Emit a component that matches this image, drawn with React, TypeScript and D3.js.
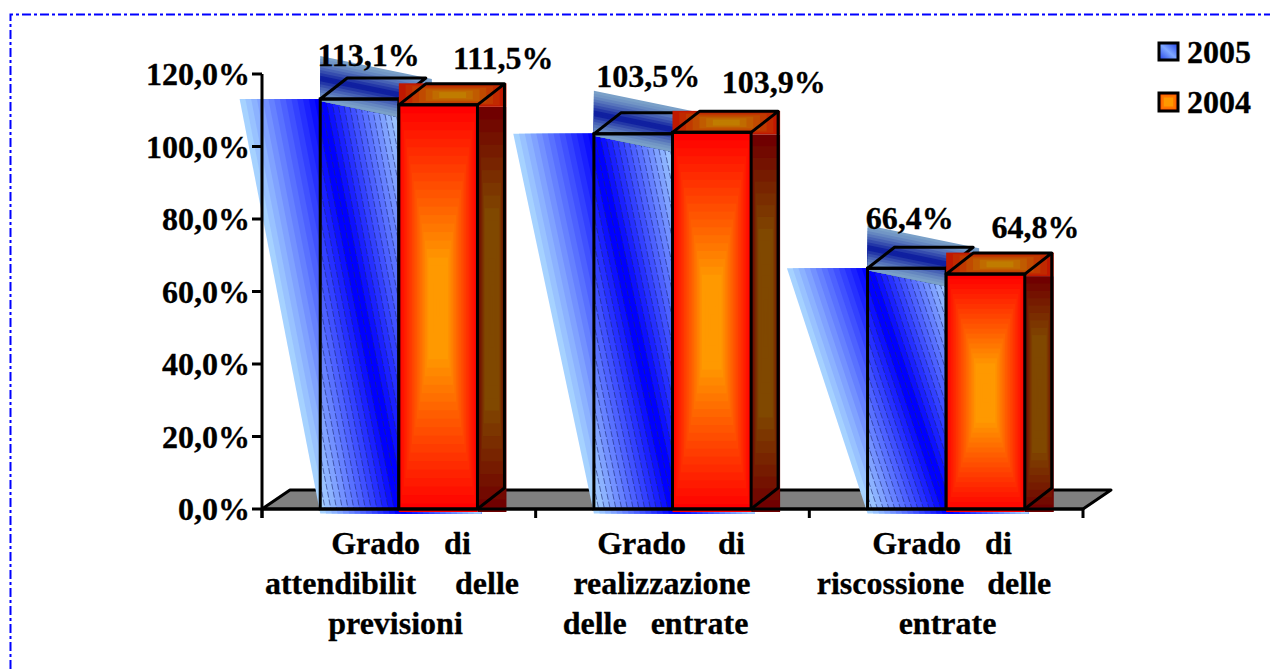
import React from "react";
import * as d3 from "d3";

const categories = ["attendibilita", "realizzazione", "riscossione"];
const categoryLines = [
  ["Grado di", "attendibilit delle", "previsioni"],
  ["Grado di", "realizzazione", "delle entrate"],
  ["Grado di", "riscossione delle", "entrate"],
];
const seriesNames = ["2005", "2004"];
const values2005 = [113.1, 103.5, 66.4];
const values2004 = [111.5, 103.9, 64.8];
const labels2005 = ["113,1%", "103,5%", "66,4%"];
const labels2004 = ["111,5%", "103,9%", "64,8%"];
const yTicks = [0, 20, 40, 60, 80, 100, 120];
const yTickLabels = ["0,0%", "20,0%", "40,0%", "60,0%", "80,0%", "100,0%", "120,0%"];

// layout
const FONT = "'Liberation Serif','Times New Roman',serif";
const FS = 32;
const DX = 27;
const DY = -21;
const SW = 3;
const label05Offset = [[9, -33], [15, -47], [3, -39]];
const label04Offset = [[65, -36], [62, -39], [50, -36]];
const wordSpacing = [[16, 31, 0], [24, 0, 16], [16, 15, 0]];
const lineCx = [[401, 392, 395.5], [671, 662, 655.5], [942, 934, 947.5]];

const y = d3.scaleLinear().domain([0, 120]).range([509, 74]);
const x0 = d3.scaleBand<string>().domain(categories).range([262, 1083]).paddingInner(0.4255).paddingOuter(0.2128);
const x1 = d3.scaleBand<string>().domain(seriesNames).range([0, x0.bandwidth()]);

const pts = (p: number[][]) => p.map((d) => d.join(",")).join(" ");

function BlueBar({ i, v }: { i: number; v: number }) {
  const bx = x0(categories[i])!;
  const bw = x1.bandwidth();
  const top = y(v);
  const bot = y(0);
  const N = 14;
  const ramp = d3.interpolateRgb("#a6d2ff", "#0000ff");
  const leftW = bw + 2;
  const left = bx - leftW;
  const right = bx + bw + 2;
  const skew = bw + 2;
  const stripes = d3.range(N * 2).map((k) => {
    const t = k < N ? k / (N - 1) : (2 * N - 1 - k) / (N - 1);
    const xs = k < N ? left + (k * leftW) / N : bx + ((k - N) * bw) / N;
    return { xs, c: ramp(t) };
  });
  const botY = bot + 4.5;
  const clipId = `bar05-${i}`;
  // top face
  const tw = bw + DX + 6;
  const tTop = top - 43;
  const tH = 45;
  const M = 8;
  const tRamp = d3.interpolateRgb("#7aa0c8", "#1020a0");
  const tStripes = d3.range(M * 2).map((k) => {
    const t = k < M ? k / (M - 1) : (2 * M - 1 - k) / (M - 1);
    return { o: (k * tH) / (2 * M), c: tRamp(Math.pow(t, 1.3)) };
  });
  const slope = 23 / tw;
  return (
    <g>
      <clipPath id={clipId}><rect x={bx} y={top} width={bw} height={bot - top} /></clipPath>
      {stripes.map((s, k) => (
        <polygon key={k} fill={s.c} points={pts([[s.xs, top], [right, top], [right + skew, botY], [s.xs + skew, botY]])} />
      ))}
      <g clipPath={`url(#${clipId})`}>
        {stripes.map((s, k) => (
          <line key={k} x1={s.xs} y1={top} x2={s.xs + skew} y2={botY} stroke="#1c2a70" strokeOpacity={0.6} strokeWidth={1} strokeDasharray="6 2" />
        ))}
      </g>
      {tStripes.map((s, k) => (
        <polygon key={k} fill={s.c} points={pts([[bx, tTop + s.o], [bx + tw, tTop + s.o + tw * slope], [bx + tw, tTop + tH + tw * slope], [bx, tTop + tH]])} />
      ))}
      <polygon fill="none" stroke="#000" strokeWidth={SW} strokeLinejoin="round"
        points={pts([[bx, top], [bx + DX, top + DY], [bx + bw + DX, top + DY], [bx + bw, top]])} />
      <rect x={bx} y={top} width={bw} height={bot - top} fill="none" stroke="#000" strokeWidth={SW} />
    </g>
  );
}

function Nested({ x, yy, w, h, from, to, n = 24, sat = 0.75 }: { x: number; yy: number; w: number; h: number; from: string; to: string; n?: number; sat?: number }) {
  const ramp = d3.interpolateRgb(from, to);
  return (
    <g>
      {d3.range(n).map((k) => {
        const f = k / n;
        return <rect key={k} x={x + (f * w) / 2} y={yy + (f * h) / 2} width={w * (1 - f)} height={h * (1 - f)} fill={ramp(Math.min(1, f / sat))} />;
      })}
    </g>
  );
}

function OrangeBar({ i, v }: { i: number; v: number }) {
  const bw = x1.bandwidth();
  const bx = x0(categories[i])! + x1("2004")!;
  const top = y(v);
  const bot = y(0);
  return (
    <g>
      <Nested x={bx + bw} yy={top + 2} w={DX + 2} h={bot + 3 - top - 2} from="#700000" to="#804800" n={16} sat={0.5} />
      <Nested x={bx} yy={top + DY - 0.5} w={bw + DX + 2} h={-DY + 2.5} from="#c01800" to="#c07c00" n={8} />
      <Nested x={bx} yy={top} w={bw} h={bot + 3 - top} from="#ff0000" to="#ff9900" />
      <polygon fill="none" stroke="#000" strokeWidth={SW} strokeLinejoin="round"
        points={pts([[bx, top], [bx + DX, top + DY], [bx + bw + DX, top + DY], [bx + bw, top]])} />
      <rect x={bx} y={top} width={bw} height={bot - top} fill="none" stroke="#000" strokeWidth={SW} />
      <polyline fill="none" stroke="#000" strokeWidth={SW}
        points={pts([[bx + bw + DX, top + DY], [bx + bw + DX, bot + DY], [bx + bw, bot]])} />
    </g>
  );
}

export default function App() {
  const tickX = [...categories.map((c) => x0(c)! - x0.step() * 0.2128), 1083];
  return (
    <svg width={1270} height={669} style={{ position: "absolute", left: 0, top: 0, background: "#fff", fontFamily: FONT }}>
      <path d="M10.5,669 V14.5 H1270" fill="none" stroke="#0000ff" strokeWidth={2} strokeDasharray="9 3 3 3" />

      <polygon fill="#808080" stroke="#000" strokeWidth={SW} strokeLinejoin="round"
        points={pts([[262, y(0)], [262 + DX + 1, y(0) + DY + 2], [1083 + DX + 1, y(0) + DY + 2], [1083, y(0)]])} />

      {values2005.map((v, i) => <BlueBar key={i} i={i} v={v} />)}
      {values2004.map((v, i) => <OrangeBar key={i} i={i} v={v} />)}

      <g stroke="#000" strokeWidth={SW} fill="none">
        <line x1={262} x2={262} y1={y(120)} y2={y(0) + 9} />
        <line x1={262} x2={1083} y1={y(0)} y2={y(0)} />
        {yTicks.map((t) => <line key={t} x1={252} x2={262} y1={y(t)} y2={y(t)} />)}
        {tickX.map((t, i) => <line key={i} x1={t} x2={t} y1={y(0)} y2={y(0) + 9} />)}
      </g>

      <g fontWeight="bold" fontSize={FS} fill="#000" stroke="#000" strokeWidth={0.3}>
        {yTicks.map((t, i) => (
          <text key={t} x={250} y={y(t) + 11} textAnchor="end">{yTickLabels[i]}</text>
        ))}
        {labels2005.map((l, i) => (
          <text key={l} x={x0(categories[i])! + x1.bandwidth() / 2 + label05Offset[i][0]} y={y(values2005[i]) + label05Offset[i][1]} textAnchor="middle">{l}</text>
        ))}
        {labels2004.map((l, i) => (
          <text key={l} x={x0(categories[i])! + x1("2004")! + x1.bandwidth() / 2 + label04Offset[i][0]} y={y(values2004[i]) + label04Offset[i][1]} textAnchor="middle">{l}</text>
        ))}
        {categoryLines.map((lines, i) => lines.map((l, j) => (
          <text key={`${i}-${j}`} x={lineCx[i][j]} y={554 + j * 40} textAnchor="middle" style={{ wordSpacing: wordSpacing[i][j] }}>{l}</text>
        )))}
        {seriesNames.map((s, i) => <text key={s} x={1187} y={63 + i * 50}>{s}</text>)}
      </g>

      <defs>
        <linearGradient id="leg05" x1="0" y1="1" x2="1" y2="0">
          <stop offset="0" stopColor="#2040e8" />
          <stop offset="0.5" stopColor="#80a8ff" />
          <stop offset="1" stopColor="#2040e8" />
        </linearGradient>
      </defs>
      <rect x={1159} y={43} width={19} height={17} fill="url(#leg05)" stroke="#000" strokeWidth={SW} />
      <g>
        <Nested x={1159} yy={93} w={19} h={18} from="#ff5000" to="#ff9900" n={4} sat={0.5} />
        <rect x={1159} y={93} width={19} height={18} fill="none" stroke="#000" strokeWidth={SW} />
      </g>
    </svg>
  );
}
